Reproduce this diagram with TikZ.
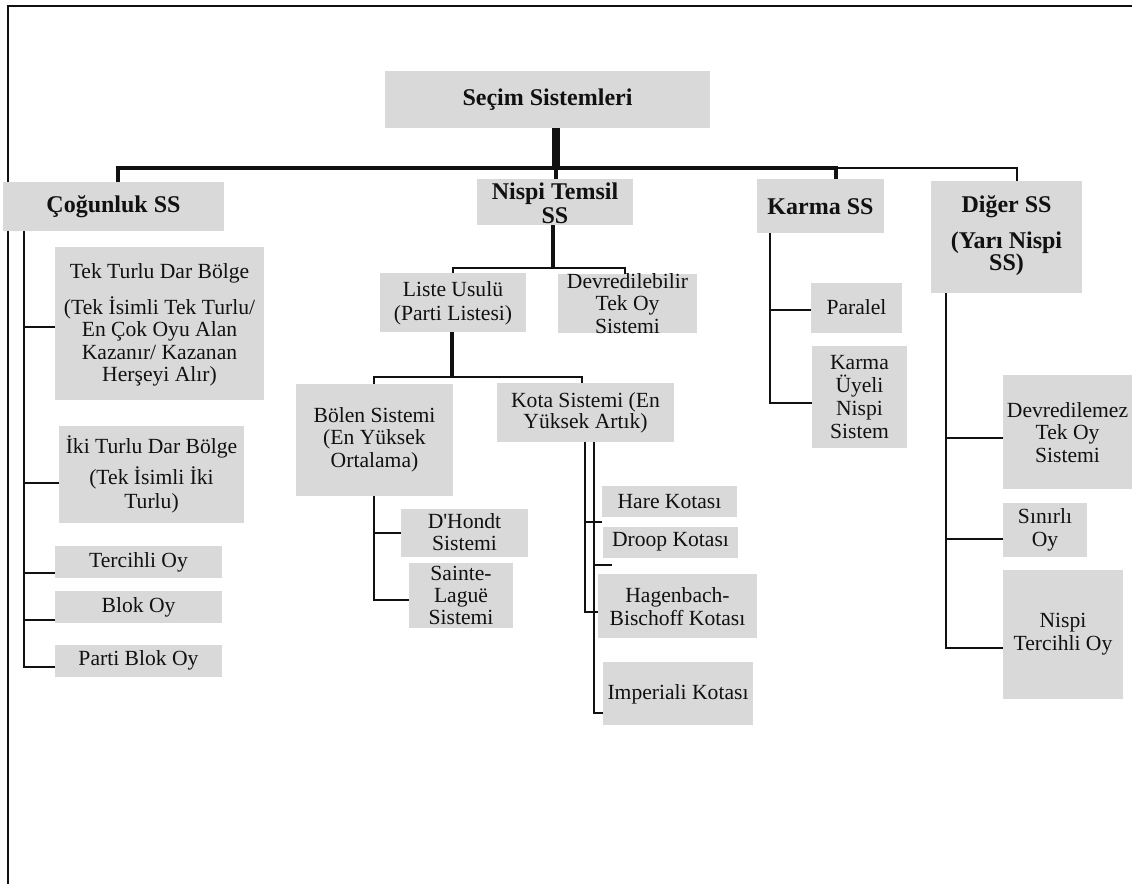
\documentclass[tikz,border=0pt]{standalone}
\usepackage{fontspec}
\setmainfont{Liberation Serif}[Ligatures=TeXOff]
\usetikzlibrary{fit}
\definecolor{boxgray}{HTML}{D9D9D9}
\definecolor{inkc}{HTML}{111111}
\tikzset{
  box/.style={fill=boxgray, draw=none, inner sep=0pt, outer sep=0pt},
  lbl/.style={align=center, inner sep=0pt, text=inkc},
  rg/.style={lbl, font={\fontsize{10.8pt}{#1pt}\selectfont}},
  rg/.default=11.25,
  bd/.style={lbl, font={\fontsize{12pt}{#1pt}\selectfont\bfseries}},
  bd/.default=12,
  conn/.style={line width=1pt, draw=inkc},
  bus/.style={line width=1.6pt, draw=inkc},
  stemthick/.style={line width=4pt, draw=inkc},
  stemmid/.style={line width=2pt, draw=inkc},
  frameline/.style={line width=1pt, draw=inkc},
}
\begin{document}
\begin{tikzpicture}[x=0.5pt, y=-0.5pt]
\useasboundingbox (0,0) rectangle (1132,884);
% frame
\draw[frameline] (8,884) -- (8,6) -- (1132,6);

% ---------- boxes ----------
\node[box, fit={(385,71) (710,128)}] (root) {};
\node[box, fit={(3,182) (224,231)}] (cog) {};
\node[box, fit={(477,179) (633,225)}] (nis) {};
\node[box, fit={(757,179) (884,233)}] (kar) {};
\node[box, fit={(931,181) (1082,293)}] (dig) {};

\node[box, fit={(55,247) (264,400)}] (tek) {};
\node[box, fit={(59,426) (244,523)}] (iki) {};
\node[box, fit={(55,546) (222,578)}] (terc) {};
\node[box, fit={(55,591) (222,623)}] (blok) {};
\node[box, fit={(55,645) (222,677)}] (parti) {};

\node[box, fit={(380,273) (526,332)}] (liste) {};
\node[box, fit={(558,274) (697,333)}] (devr) {};
\node[box, fit={(296,384) (453,496)}] (bolen) {};
\node[box, fit={(497,383) (674,442)}] (kota) {};
\node[box, fit={(401,509) (528,557)}] (dhondt) {};
\node[box, fit={(409,563) (513,628)}] (sainte) {};
\node[box, fit={(602,486) (737,517)}] (hare) {};
\node[box, fit={(603,527) (738,558)}] (droop) {};
\node[box, fit={(598,574) (757,638)}] (hagen) {};
\node[box, fit={(603,662) (753,725)}] (imper) {};

\node[box, fit={(811,283) (902,333)}] (paralel) {};
\node[box, fit={(812,346) (907,448)}] (kuns) {};

\node[box, fit={(1003,375) (1132,489)}] (devrz) {};
\node[box, fit={(1003,503) (1087,557)}] (sinirli) {};
\node[box, fit={(1003,570) (1123,699)}] (nto) {};

% ---------- labels ----------
\node[bd] (root-t) at (547.5,100) {Seçim Sistemleri};
\node[bd] (cog-t) at (113.5,207) {Çoğunluk SS};
\node[bd=12] (nis-t) at (555,203) {Nispi Temsil\\SS};
\node[bd] (kar-t) at (820.5,207) {Karma SS};
\node[bd=11] (dig-t) at (1006.5,236) {Diğer SS\\[7pt](Yarı Nispi\\SS)};

\node[rg=11.2] (tek-t) at (159.5,325) {Tek Turlu Dar Bölge\\[5.5pt](Tek İsimli Tek Turlu/\\En Çok Oyu Alan\\Kazanır/ Kazanan\\Herşeyi Alır)};
\node[rg=12] (iki-t) at (151.5,474.5) {İki Turlu Dar Bölge\\[3.5pt](Tek İsimli İki\\Turlu)};
\node[rg] (terc-t) at (138.5,562) {Tercihli Oy};
\node[rg] (blok-t) at (138.5,607) {Blok Oy};
\node[rg] (parti-t) at (138.5,660) {Parti Blok Oy};

\node[rg=12] (liste-t) at (453,303) {Liste Usulü\\(Parti Listesi)};
\node[rg=11.25] (devr-t) at (627.5,303.5) {Devredilebilir\\Tek Oy\\Sistemi};
\node[rg=11.25] (bolen-t) at (374.5,439.5) {Bölen Sistemi\\(En Yüksek\\Ortalama)};
\node[rg=10.5] (kota-t) at (585.5,412.5) {Kota Sistemi (En\\Yüksek Artık)};
\node[rg=11] (dhondt-t) at (464.5,532) {D'Hondt\\Sistemi};
\node[rg=11] (sainte-t) at (461,595) {Sainte-\\Laguë\\Sistemi};
\node[rg] (hare-t) at (669.5,502) {Hare Kotası};
\node[rg] (droop-t) at (670.5,542) {Droop Kotası};
\node[rg=11.5] (hagen-t) at (677.5,606.5) {Hagenbach-\\Bischoff Kotası};
\node[rg] (imper-t) at (678,694) {Imperiali Kotası};

\node[rg] (paralel-t) at (856.5,307) {Paralel};
\node[rg=11.5] (kuns-t) at (859.5,397.5) {Karma\\Üyeli\\Nispi\\Sistem};

\node[rg=11.25] (devrz-t) at (1067.5,432.5) {Devredilemez\\Tek Oy\\Sistemi};
\node[rg=11.5] (sinirli-t) at (1045,529.5) {Sınırlı\\Oy};
\node[rg=11.5] (nto-t) at (1063,634.5) {Nispi\\Tercihli Oy};

% ---------- connectors ----------
% root to level 1
\coordinate (j0) at (556,168);
\coordinate (bL) at (118,168);
\coordinate (bK) at (836,168);
\coordinate (bR) at (1017,168);
\draw[stemthick] (root.south -| j0) -- (j0);
\draw[bus] (cog.north -| bL) -- (bL) -- (bK) -- (kar.north -| bK);
\draw[conn] (bK) -- (bR) -- (dig.north -| bR);
\draw[bus] (j0) -- (nis.north -| j0);

% Nispi Temsil
\coordinate (n1) at (553,268);
\coordinate (n1L) at (453,268);
\coordinate (n1R) at (625,268);
\draw[stemmid] (nis.south -| n1) -- (n1);
\draw[conn] (liste.north -| n1L) -- (n1L) -- (n1R) -- (devr.north -| n1R);

% Liste Usulu
\coordinate (l1) at (452,377);
\coordinate (l1L) at (374,377);
\coordinate (l1R) at (582,377);
\draw[stemmid] (liste.south -| l1) -- (l1);
\draw[conn] (bolen.north -| l1L) -- (l1L) -- (l1R) -- (kota.north -| l1R);

% Bolen
\coordinate (b1) at (374,600);
\draw[conn] (bolen.south -| b1) -- (b1) -- (sainte.west |- b1);
\draw[conn] (b1 |- dhondt.west) -- (dhondt.west);

% Kota
\coordinate (k1) at (585,612);
\coordinate (k2) at (594,713);
\coordinate (k1h) at (585,522);
\coordinate (k2d) at (594,565);
\draw[conn] (kota.south -| k1) -- (k1) -- (hagen.west |- k1);
\draw[conn] (kota.south -| k2) -- (k2) -- (imper.west |- k2);
\draw[conn] (k1h) -- (k1h -| hare.west);
\draw[conn] (k2d) -- ([xshift=4.5pt]k2d -| droop.west);

% Karma
\coordinate (m1) at (770,403);
\coordinate (m2) at (770,310);
\draw[conn] (kar.south -| m1) -- (m1) -- (kuns.west |- m1);
\draw[conn] (m2) -- (m2 -| paralel.west);

% Diger
\coordinate (d1) at (946,648);
\coordinate (d2) at (946,438);
\coordinate (d3) at (946,539);
\draw[conn] (dig.south -| d1) -- (d1) -- (nto.west |- d1);
\draw[conn] (d2) -- (d2 -| devrz.west);
\draw[conn] (d3) -- (d3 -| sinirli.west);

% Cogunluk
\coordinate (c1) at (24,667);
\coordinate (c2) at (24,327);
\coordinate (c3) at (24,483);
\coordinate (c4) at (24,573);
\coordinate (c5) at (24,620);
\draw[conn] (cog.south -| c1) -- (c1) -- (parti.west |- c1);
\draw[conn] (c2) -- (c2 -| tek.west);
\draw[conn] (c3) -- (c3 -| iki.west);
\draw[conn] (c4) -- (c4 -| terc.west);
\draw[conn] (c5) -- (c5 -| blok.west);
\end{tikzpicture}
\end{document}
